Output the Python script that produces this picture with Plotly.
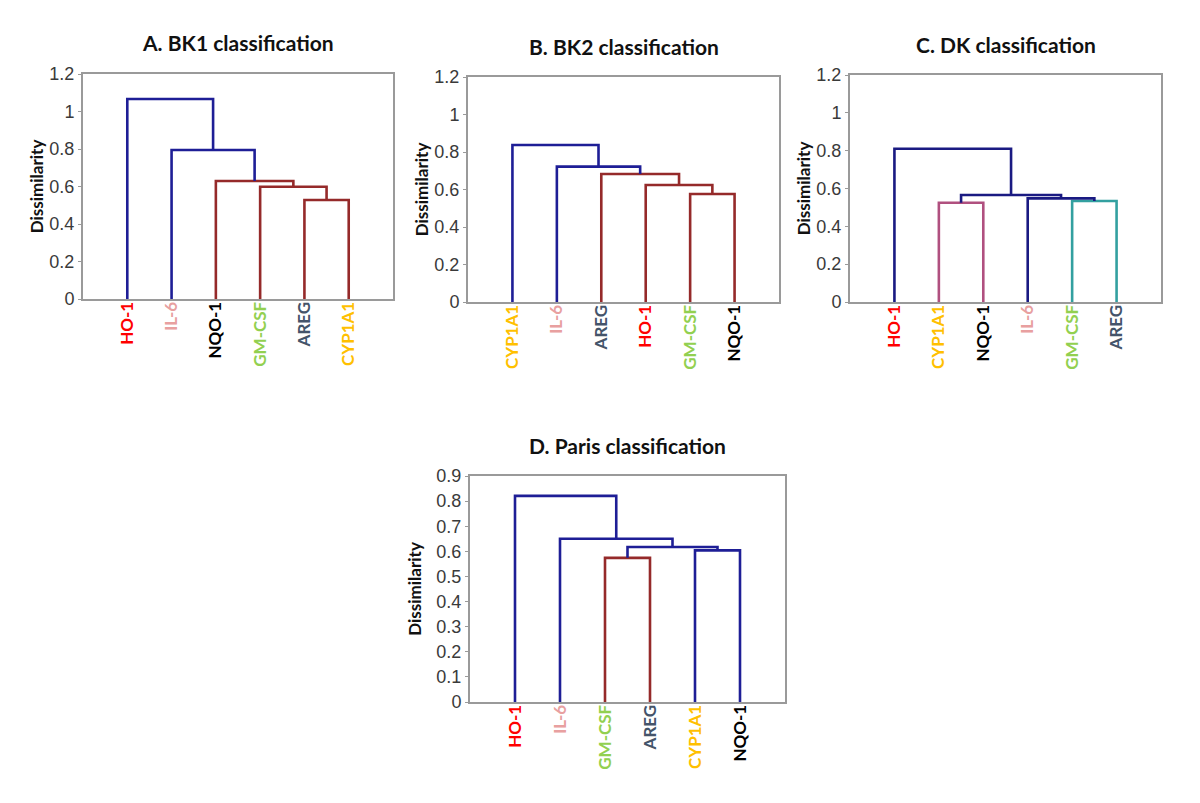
import plotly.graph_objects as go

# ---------------- data ----------------
LABEL_COLORS = {
    "HO-1": "#FF0000",
    "IL-6": "#E8A0A0",
    "NQO-1": "#000000",
    "GM-CSF": "#92D050",
    "AREG": "#44546A",
    "CYP1A1": "#FFC000",
}
BLUE = "#1E1E96"
RED = "#952A2A"
PINK = "#B0507F"
TEAL = "#33A0A0"
NAVY = "#1A1A82"

a_title = "A. BK1 classification"
a_leaves = ["HO-1", "IL-6", "NQO-1", "GM-CSF", "AREG", "CYP1A1"]
a_merges = [("AREG", "CYP1A1"), ("GM-CSF", 0), ("NQO-1", 1), ("IL-6", 2), ("HO-1", 3)]
a_heights = [0.528, 0.599, 0.629, 0.795, 1.067]
a_colors = [RED, RED, RED, BLUE, BLUE]
a_yticks = [0, 0.2, 0.4, 0.6, 0.8, 1.0, 1.2]
a_yticktext = ["0", "0.2", "0.4", "0.6", "0.8", "1", "1.2"]

b_title = "B. BK2 classification"
b_leaves = ["CYP1A1", "IL-6", "AREG", "HO-1", "GM-CSF", "NQO-1"]
b_merges = [("GM-CSF", "NQO-1"), ("HO-1", 0), ("AREG", 1), ("IL-6", 2), ("CYP1A1", 3)]
b_heights = [0.576, 0.624, 0.683, 0.722, 0.837]
b_colors = [RED, RED, RED, BLUE, BLUE]
b_yticks = a_yticks
b_yticktext = a_yticktext

c_title = "C. DK classification"
c_leaves = ["HO-1", "CYP1A1", "NQO-1", "IL-6", "GM-CSF", "AREG"]
c_merges = [("CYP1A1", "NQO-1"), ("GM-CSF", "AREG"), ("IL-6", 1), (0, 2), ("HO-1", 3)]
c_heights = [0.525, 0.534, 0.548, 0.566, 0.81]
c_colors = [PINK, TEAL, NAVY, NAVY, NAVY]
c_yticks = a_yticks
c_yticktext = a_yticktext

d_title = "D. Paris classification"
d_leaves = ["HO-1", "IL-6", "GM-CSF", "AREG", "CYP1A1", "NQO-1"]
d_merges = [("GM-CSF", "AREG"), ("CYP1A1", "NQO-1"), (0, 1), ("IL-6", 2), ("HO-1", 3)]
d_heights = [0.574, 0.604, 0.617, 0.65, 0.821]
d_colors = [RED, BLUE, BLUE, BLUE, BLUE]
d_yticks = [0, 0.1, 0.2, 0.3, 0.4, 0.5, 0.6, 0.7, 0.8, 0.9]
d_yticktext = ["0", "0.1", "0.2", "0.3", "0.4", "0.5", "0.6", "0.7", "0.8", "0.9"]

# ---------------- layout geometry (pixels) ----------------
W, H = 1200, 803
panels = [
    dict(title=a_title, leaves=a_leaves, merges=a_merges, heights=a_heights, colors=a_colors,
         yticks=a_yticks, ytext=a_yticktext, ymax=1.2, box=(83, 393, 74, 299), standoff=1),
    dict(title=b_title, leaves=b_leaves, merges=b_merges, heights=b_heights, colors=b_colors,
         yticks=b_yticks, ytext=b_yticktext, ymax=1.2, box=(468, 779, 77, 302), standoff=1),
    dict(title=c_title, leaves=c_leaves, merges=c_merges, heights=c_heights, colors=c_colors,
         yticks=c_yticks, ytext=c_yticktext, ymax=1.2, box=(850, 1161, 75, 302), standoff=1),
    dict(title=d_title, leaves=d_leaves, merges=d_merges, heights=d_heights, colors=d_colors,
         yticks=d_yticks, ytext=d_yticktext, ymax=0.9, box=(470, 785, 476, 702), standoff=10),
]


def link_segments(leaves, merges, heights):
    pos = {name: i + 1 for i, name in enumerate(leaves)}
    node_x, node_h, segs = [], [], []
    for (l, r), h in zip(merges, heights):
        def get(c):
            if isinstance(c, str):
                return pos[c], 0.0
            return node_x[c], node_h[c]
        lx, lh = get(l)
        rx, rh = get(r)
        segs.append(([lx, lx, rx, rx], [lh, h, h, rh]))
        node_x.append((lx + rx) / 2)
        node_h.append(h)
    return segs


fig = go.Figure()
layout = dict(
    width=W, height=H, autosize=False,
    margin=dict(l=0, r=0, t=0, b=0),
    paper_bgcolor="white", plot_bgcolor="white",
    showlegend=False,
    annotations=[],
)

FRAME = "#9A9A9A"
for i, p in enumerate(panels, start=1):
    xn = "x" if i == 1 else f"x{i}"
    yn = "y" if i == 1 else f"y{i}"
    x0, x1, y0, y1 = p["box"]
    for (xs, ys), col in zip(link_segments(p["leaves"], p["merges"], p["heights"]), p["colors"]):
        fig.add_trace(go.Scatter(x=xs, y=ys, mode="lines", xaxis=xn, yaxis=yn,
                                 line=dict(color=col, width=2.6), hoverinfo="skip"))
    ticktext = [f"<b><span style='color:{LABEL_COLORS[n]}'>{n}</span></b>" for n in p["leaves"]]
    layout["xaxis" if i == 1 else f"xaxis{i}"] = dict(
        domain=[x0 / W, x1 / W], anchor=yn, range=[0, 7],
        tickmode="array", tickvals=list(range(1, 7)), ticktext=ticktext,
        tickangle=-90, tickfont=dict(family="Lato, Open Sans, sans-serif", size=17),
        ticklabelstandoff=-6,
        showline=True, mirror=True, linecolor=FRAME, linewidth=2,
        showgrid=False, zeroline=False, ticks="", fixedrange=True, automargin=False,
    )
    layout["yaxis" if i == 1 else f"yaxis{i}"] = dict(
        domain=[1 - y1 / H, 1 - y0 / H], anchor=xn, range=[0, p["ymax"]],
        tickmode="array", tickvals=p["yticks"], ticktext=p["ytext"],
        tickfont=dict(family="Liberation Sans, Arial, sans-serif", size=18, color="#3A3A3A"),
        ticks="outside", ticklen=3, tickcolor=FRAME, tickwidth=1,
        showline=True, mirror=True, linecolor=FRAME, linewidth=2,
        showgrid=False, zeroline=False, fixedrange=True, automargin=False,
        title=dict(text="<b>Dissimilarity</b>", standoff=p["standoff"],
                   font=dict(family="Lato, Open Sans, sans-serif", size=17, color="#111111")),
    )
    layout["annotations"].append(dict(
        text=f"<b>{p['title']}</b>", xref="paper", yref="paper",
        x=(x0 + x1) / 2 / W, y=1 - (y0 - 31) / H, xanchor="center", yanchor="middle",
        showarrow=False, font=dict(family="Lato, Open Sans, sans-serif", size=21, color="#111111"),
    ))

fig.update_layout(**layout)
fig.write_html("out.html", config={"displayModeBar": False},
               post_script="document.body.style.margin='0';document.body.style.overflow='hidden';")
